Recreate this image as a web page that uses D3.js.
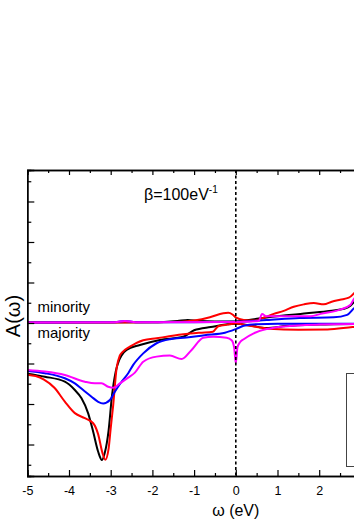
<!DOCTYPE html>
<html>
    <head>
        <style>
            body { margin: 0; background: #fff; }
            svg { display: block; overflow: hidden; }
        </style>
    </head>
    <body>
        <div id="graph_div"></div>
    </body>
    <script src="https://d3js.org/d3.v7.min.js"></script>
    <script>
        // x ticks (eV)
        var labelTicksX = [-5, -4, -3, -2, -1, 0, 1, 2]
        var majorTicksX = [-5, -4, -3, -2, -1, 0, 1, 2, 3, 4, 5]
        var minorTicksX = [-4.5, -3.5, -2.5, -1.5, -0.5, 0.5, 1.5, 2.5, 3.5, 4.5]
        var majorTicksY = [-6, -4, -2, 0, 2, 4, 6]
        var minorTicksY = [-7, -5, -3, -1, 1, 3, 5, 7]

        // majority spin (drawn below zero), [omega, A]
        var majBlack = [[-5.0,-2.5],[-4.58,-2.65],[-4.1,-2.9],[-3.86,-3.31],[-3.7,-3.72],[-3.54,-4.46],[-3.42,-5.37],[-3.3,-6.36],[-3.21,-6.77],[-3.14,-6.4],[-3.05,-5.3],[-2.97,-3.6],[-2.88,-2.4],[-2.8,-1.85],[-2.74,-1.6],[-2.62,-1.33],[-2.3,-1.09],[-1.82,-0.84],[-1.26,-0.68],[-1.0,-0.36],[-0.6,-0.2],[0,-0.04],[0.35,-0.12],[0.74,-0.25],[1.2,-0.15],[2,-0.08],[3,-0.05],[5,-0.03]]
        var majRed = [[-5.0,-2.55],[-4.8,-2.62],[-4.6,-2.8],[-4.35,-3.2],[-4.1,-3.88],[-3.86,-4.45],[-3.62,-4.7],[-3.42,-4.95],[-3.3,-5.5],[-3.2,-6.4],[-3.13,-6.75],[-3.05,-6.2],[-3.0,-5.2],[-2.94,-4.05],[-2.86,-2.25],[-2.78,-1.6],[-2.7,-1.4],[-2.54,-1.17],[-2.22,-0.85],[-1.9,-0.75],[-1.66,-0.68],[-1.26,-0.56],[-0.86,-0.48],[-0.55,-0.43],[-0.42,-0.16],[-0.2,-0.08],[0,-0.03],[0.3,-0.12],[0.8,-0.28],[1.5,-0.33],[2.2,-0.32],[2.8,-0.2],[3.3,-0.12],[4,-0.08],[5,-0.05]]
        var majBlue = [[-5.0,-2.37],[-4.58,-2.48],[-4.1,-2.73],[-3.86,-2.98],[-3.66,-3.31],[-3.46,-3.64],[-3.3,-3.89],[-3.18,-3.97],[-3.02,-3.8],[-2.9,-3.39],[-2.74,-2.9],[-2.58,-2.48],[-2.46,-2.07],[-2.22,-1.5],[-1.9,-1.0],[-1.58,-0.8],[-1.18,-0.72],[-0.75,-0.6],[-0.26,-0.48],[0,-0.3],[0.19,-0.14],[0.5,-0.06],[1,-0.04],[2,-0.04],[3,-0.04],[5,-0.03]]
        var majMagenta = [[-5.0,-2.32],[-4.58,-2.4],[-4.1,-2.57],[-3.62,-2.9],[-3.38,-2.98],[-3.22,-2.98],[-3.06,-3.15],[-2.94,-3.2],[-2.78,-2.98],[-2.58,-2.7],[-2.42,-2.45],[-2.22,-1.91],[-1.9,-1.66],[-1.58,-1.61],[-1.3,-1.78],[-1.06,-1.33],[-0.78,-0.73],[-0.54,-0.68],[-0.22,-0.73],[-0.1,-0.85],[-0.04,-1.2],[0,-1.99],[0.04,-1.2],[0.1,-0.95],[0.19,-0.8],[0.43,-0.51],[0.74,-0.3],[1.15,-0.17],[2,-0.08],[3,-0.05],[5,-0.04]]

        // minority spin (drawn above zero), [omega, A]
        var minBlack = [[-5,0.03],[-2,0.04],[-1.4,0.1],[-1.15,0.15],[-0.9,0.1],[-0.5,0.08],[0,0.08],[0.19,0.12],[0.74,0.27],[1.2,0.38],[1.55,0.45],[2.19,0.58],[2.59,0.7],[2.75,0.85],[2.85,1.07],[3.0,1.4],[3.2,1.7]]
        var minRed = [[-5,0.03],[-3,0.03],[-2,0.04],[-1.3,0.06],[-1.0,0.12],[-0.62,0.28],[-0.3,0.48],[-0.18,0.5],[-0.08,0.42],[0,0.28],[0.19,0.15],[0.43,0.12],[0.65,0.25],[0.91,0.45],[1.15,0.6],[1.39,0.8],[1.63,0.92],[1.87,0.99],[2.11,0.92],[2.3,1.05],[2.5,1.15],[2.71,1.25],[2.85,1.5],[3.0,1.9],[3.2,2.2]]
        var minBlue = [[-5,0.03],[-2.9,0.04],[-2.66,0.1],[-2.4,0.04],[-1,0.04],[0,0.06],[0.74,0.15],[1.53,0.25],[2.35,0.28],[2.67,0.4],[2.83,0.72],[3.0,1.0],[3.2,1.3]]
        var minMagenta = [[-5,0.03],[-2.9,0.04],[-2.66,0.1],[-2.4,0.04],[0,0.05],[0.55,0.1],[0.63,0.44],[0.74,0.33],[1.2,0.33],[1.8,0.33],[2.03,0.45],[2.5,0.66],[2.75,0.9],[2.82,1.15],[3.0,1.5],[3.2,1.8]]

        var series = [
          {color: "#000000", maj: majBlack, min: minBlack},
          {color: "#ff0000", maj: majRed, min: minRed},
          {color: "#0000ff", maj: majBlue, min: minBlue},
          {color: "#ff00ff", maj: majMagenta, min: minMagenta}
        ]

        var W = 354, H = 525
        var plotLeft = 27.3, plotTop = 170, plotBottom = 476

        var svg = d3.select("#graph_div")
          .append("svg")
            .attr("width", W)
            .attr("height", H)
            .style("font-family", "Arial, 'Liberation Sans', sans-serif")

        var x = d3.scaleLinear()
          .domain([-5, 5])
          .range([plotLeft, plotLeft + 417])
        var y = d3.scaleLinear()
          .domain([-7.555, 7.555])
          .range([plotBottom, plotTop])

        var line = d3.line()
          .x(function(d) { return x(d[0]) })
          .y(function(d) { return y(d[1]) })
          .curve(d3.curveMonotoneX)

        // curves
        series.forEach(function(s) {
          [s.maj, s.min].forEach(function(data) {
            svg.append("path")
              .datum(data)
              .attr("fill", "none")
              .attr("stroke", s.color)
              .attr("stroke-width", 2)
              .attr("d", line)
          })
        })

        // Fermi level
        svg.append("line")
          .attr("x1", x(0)).attr("x2", x(0))
          .attr("y1", plotTop).attr("y2", plotBottom)
          .attr("stroke", "#000")
          .attr("stroke-width", 1.6)
          .attr("stroke-dasharray", "3,2.5")

        // axes, ticks pointing inside
        function styleAxis(g) {
          g.select(".domain").attr("stroke-width", 1.4)
          g.selectAll(".tick line").attr("stroke-width", 1.2)
        }
        svg.append("g")
          .attr("transform", "translate(0," + plotBottom + ")")
          .call(d3.axisBottom(x).tickValues(minorTicksX).tickSize(-3).tickFormat(""))
          .call(styleAxis)
        svg.append("g")
          .attr("transform", "translate(0," + plotBottom + ")")
          .call(d3.axisBottom(x).tickValues(majorTicksX).tickSize(-6).tickFormat(""))
          .call(styleAxis)
        svg.append("g")
          .attr("transform", "translate(0," + plotBottom + ")")
          .call(d3.axisBottom(x).tickValues(labelTicksX).tickSize(0).tickPadding(10)
            .tickFormat(function(d) { return d < 0 ? "-" + Math.abs(d) : d }))
          .call(function(g) { g.select(".domain").remove() })
          .selectAll("text")
            .attr("font-size", "12.5px")
            .attr("font-family", "Arial, 'Liberation Sans', sans-serif")
            .attr("fill", "#000")

        svg.append("g")
          .attr("transform", "translate(0," + plotTop + ")")
          .call(d3.axisTop(x).tickValues(minorTicksX).tickSize(-3).tickFormat(""))
          .call(styleAxis)
        svg.append("g")
          .attr("transform", "translate(0," + plotTop + ")")
          .call(d3.axisTop(x).tickValues(majorTicksX).tickSize(-5).tickFormat(""))
          .call(styleAxis)

        svg.append("g")
          .attr("transform", "translate(" + plotLeft + ",0)")
          .call(d3.axisLeft(y).tickValues(minorTicksY).tickSize(-4).tickFormat(""))
          .call(styleAxis)
        svg.append("g")
          .attr("transform", "translate(" + plotLeft + ",0)")
          .call(d3.axisLeft(y).tickValues(majorTicksY).tickSize(-7).tickFormat(""))
          .call(styleAxis)

        // legend frame (cut by the picture edge)
        svg.append("rect")
          .attr("x", 346.5).attr("y", 373.5)
          .attr("width", 60).attr("height", 93)
          .attr("fill", "none")
          .attr("stroke", "#444")
          .attr("stroke-width", 1)

        // labels
        svg.append("text")
          .attr("x", x(0))
          .attr("y", 516)
          .attr("text-anchor", "middle")
          .attr("font-size", "16px")
          .text("\u03c9 (eV)")

        svg.append("text")
          .attr("transform", "translate(20,316) rotate(-90)")
          .attr("text-anchor", "middle")
          .attr("font-size", "20px")
          .text("A(\u03c9)")

        var beta = svg.append("text")
          .attr("x", 144)
          .attr("y", 200)
          .attr("font-size", "16px")
        beta.append("tspan").text("\u03b2=100eV")
        beta.append("tspan")
          .attr("font-size", "10px")
          .attr("dy", "-7")
          .text("-1")

        svg.append("text")
          .attr("x", 37.5)
          .attr("y", 311.5)
          .attr("font-size", "15px")
          .text("minority")
        svg.append("text")
          .attr("x", 37.5)
          .attr("y", 338)
          .attr("font-size", "15px")
          .text("majority")
    </script>
</html>
